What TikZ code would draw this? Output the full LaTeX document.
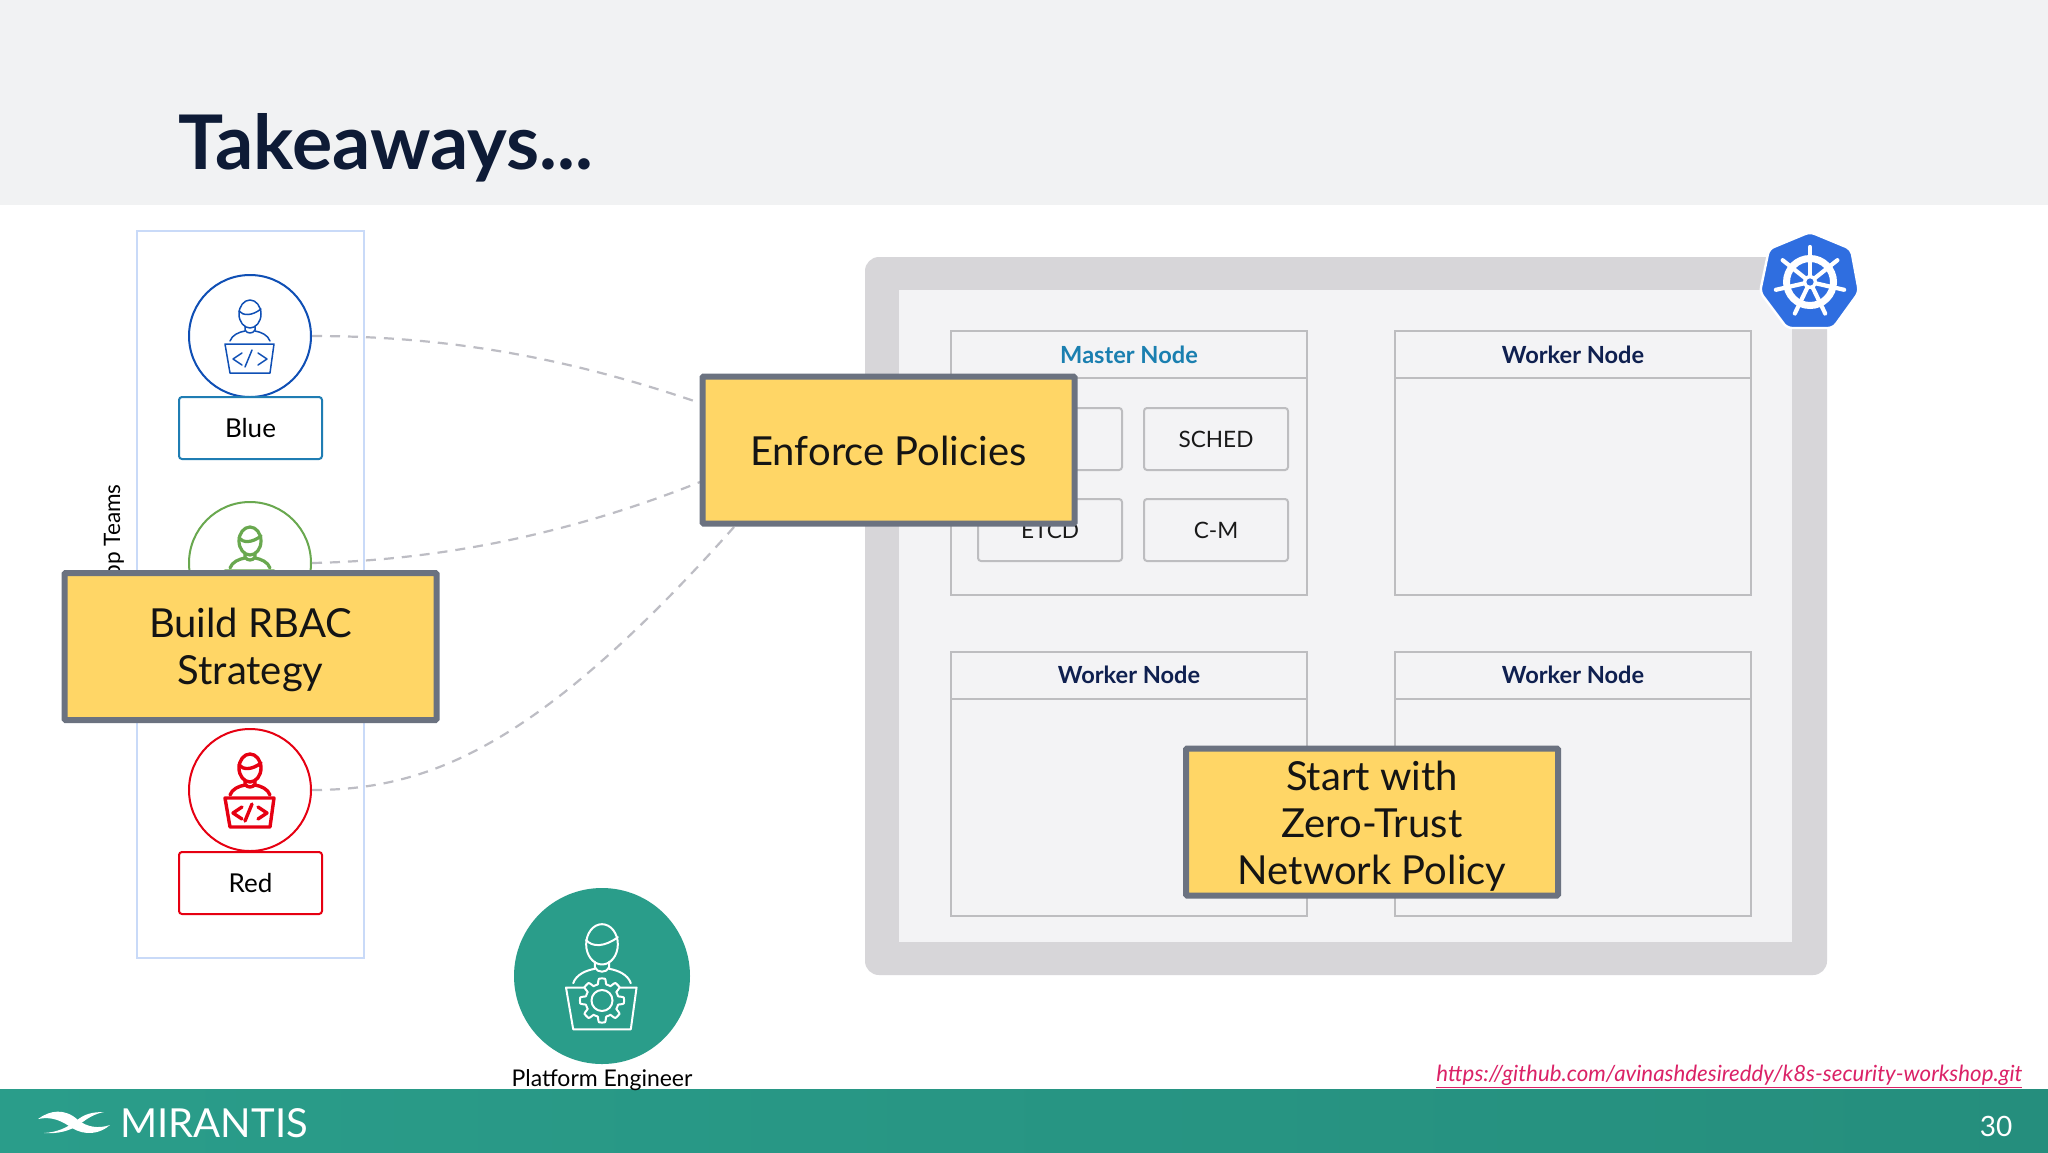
\documentclass[tikz,border=0pt]{standalone}
\usepackage{fontspec}
\setmainfont{Lato}
\usetikzlibrary{calc}
\definecolor{headbg}{HTML}{F1F2F3}
\definecolor{titleink}{HTML}{0E1B36}
\definecolor{teamline}{HTML}{C9DAF8}
\definecolor{bluecirc}{HTML}{0F4FB5}
\definecolor{bluebox}{HTML}{1F7DB3}
\definecolor{greencirc}{HTML}{69A84F}
\definecolor{redcirc}{HTML}{E60012}
\definecolor{tealfill}{HTML}{2A9D8A}
\definecolor{tealdark}{HTML}{258E7D}
\definecolor{frameg}{HTML}{D7D6D9}
\definecolor{frameinner}{HTML}{F3F3F5}
\definecolor{nodeline}{HTML}{BDBDC0}
\definecolor{masterink}{HTML}{1A7FB0}
\definecolor{workerink}{HTML}{0F2050}
\definecolor{callfill}{HTML}{FFD666}
\definecolor{callline}{HTML}{6B7280}
\definecolor{dashg}{HTML}{BDBDC4}
\definecolor{kblue}{HTML}{2F6EE0}
\definecolor{linkpink}{HTML}{DB2267}
\tikzset{
  x=0.5pt,y=-0.5pt,
  teambox/.style={draw=teamline,line width=1pt,minimum width=113.5pt,minimum height=363.5pt,inner sep=0pt},
  rolecirc/.style={circle,draw=#1,fill=white,line width=1pt,minimum size=61pt,inner sep=0pt},
  rolebox/.style={draw=#1,fill=white,line width=1pt,rounded corners=1.5pt,minimum width=71.5pt,minimum height=31pt,font=\fontsize{13}{15}\selectfont,text=black},
  partbox/.style={draw=nodeline,line width=1pt,rounded corners=1.5pt,minimum width=72pt,minimum height=31pt,font=\fontsize{11.3}{14}\selectfont,text=black!90},
  nodeframe/.style={draw=nodeline,line width=1pt,minimum width=178pt,minimum height=132pt},
  nodehead/.style={font=\bfseries\fontsize{11.8}{14}\selectfont,inner sep=0pt},
  callout/.style={draw=callline,fill=callfill,line width=3pt,rounded corners=0.6pt,inner ysep=0pt,minimum width=186pt,minimum height=73.5pt,align=center,font=\fontsize{20}{23.5}\selectfont,text=black!92},
  link/.style={draw=dashg,line width=1.1pt,dash pattern=on 5pt off 4pt},
}
% #1 x, #2 y, #3 scale, #4 colour, #5 line width, #6 laptop content
\newcommand{\personicon}[6]{%
  \begin{scope}[shift={(#1,#2)},scale=#3,draw=#4,line width=#5,line join=round,line cap=round]
    \draw (0,-22) ellipse [x radius=11,y radius=14];
    \draw (-11,-25) .. controls (-7,-20) and (2,-20) .. (11,-27);
    \draw (-5,-10) -- (-5,-6) .. controls (-3,-2) and (3,-2) .. (5,-6) -- (5,-10);
    \draw (-20,5) .. controls (-18,-1) and (-11,-4) .. (-5,-5);
    \draw (20,5) .. controls (18,-1) and (11,-4) .. (5,-5);
    \draw (-25,8) -- (24,8) -- (20,37) -- (-20,37) -- cycle;
    #6
  \end{scope}}
\newcommand{\codemark}{%
  \draw (-8,17) -- (-17,23) -- (-8,29);
  \draw (2,14) -- (-5,31);
  \draw (8,17) -- (17,23) -- (8,29);}
\begin{document}
\begin{tikzpicture}
\useasboundingbox (0,0) rectangle (2048,1152);
\fill[white] (0,0) rectangle (2048,1152);
% header and footer
\fill[headbg] (0,0) rectangle (2048,205);
\shade[left color=tealfill,right color=tealdark] (0,1089) rectangle (2048,1152);
\node[anchor=base west,inner sep=0pt,text=titleink,font=\bfseries\fontsize{37.7}{40}\selectfont] (title) at (178,169.5) {Takeaways...};
% team panel
\node[teambox] (team) at (250.5,594.5) {};
\node[anchor=base east,rotate=90,inner sep=0pt,font=\fontsize{11.3}{15}\selectfont,text=black] (teamlabel) at (120,484) {App Teams};
\node[rolecirc=bluecirc] (bluec) at (250,336) {};
\personicon{250}{336}{1}{bluecirc}{0.75pt}{\codemark}
\node[rolebox=bluebox] (blueb) at (250.5,428) {\raisebox{-0.5pt}{Blue}};
\node[rolecirc=greencirc] (greenc) at (250,563) {};
\personicon{250}{563}{1}{greencirc}{1.6pt}{\codemark}
\node[rolecirc=redcirc] (redc) at (250,790) {};
\personicon{250}{790}{1}{redcirc}{1.7pt}{\codemark}
\node[rolebox=redcirc] (redb) at (250.5,883) {Red};
% platform engineer
\node[circle,fill=tealfill,minimum size=88pt,inner sep=0pt] (plat) at (602,976) {};
\begin{scope}[shift={(602,976)},scale=1.44,draw=white,line width=1pt,line join=round,line cap=round]
  \draw (0,-22) ellipse [x radius=11,y radius=14];
  \draw (-11,-25) .. controls (-7,-20) and (2,-20) .. (11,-27);
  \draw (-5,-10) -- (-5,-6) .. controls (-3,-2) and (3,-2) .. (5,-6) -- (5,-10);
  \draw (-20,5) .. controls (-18,-1) and (-11,-4) .. (-5,-5);
  \draw (20,5) .. controls (18,-1) and (11,-4) .. (5,-5);
  \draw (-25,8) -- (24,8) -- (20,37) -- (-20,37) -- cycle;
  \begin{scope}[shift={(0,17)}]
    \draw[fill=tealfill] plot[samples=193,domain=0:360] (\x:{13.4+1.9*max(min(2.5*cos(8*\x),1),-1)}) -- cycle;
    \draw (0,0) circle [radius=7.3];
  \end{scope}
\end{scope}
\node[anchor=base,inner sep=0pt,font=\fontsize{11.5}{14}\selectfont,text=black] (platlabel) at (602,1086) {Platform Engineer};
% cluster frame
\fill[frameg,rounded corners=7pt] (865,257) rectangle (1827,975);
\fill[frameinner] (899,290) rectangle (1792,942);
% master node
\node[nodeframe] (master) at (1129,463) {};
\draw[nodeline,line width=1pt] (951,378) -- (1307,378);
\node[nodehead,text=masterink] (masterh) at (1129,355) {Master Node};
\node[partbox] (api) at (1050,439) {};
\node[partbox] (sched) at (1216,439) {SCHED};
\node[partbox] (etcd) at (1050,530) {ETCD};
\node[partbox] (cm) at (1216,530) {C-M};
% worker nodes
\node[nodeframe] (w1) at (1573,463) {};
\draw[nodeline,line width=1pt] (1395,378) -- (1751,378);
\node[nodehead,text=workerink] (w1h) at (1573,355) {Worker Node};
\node[nodeframe] (w2) at (1129,784) {};
\draw[nodeline,line width=1pt] (951,699) -- (1307,699);
\node[nodehead,text=workerink] (w2h) at (1129,675) {Worker Node};
\node[nodeframe] (w3) at (1573,784) {};
\draw[nodeline,line width=1pt] (1395,699) -- (1751,699);
\node[nodehead,text=workerink] (w3h) at (1573,675) {Worker Node};
% kubernetes badge
\draw[white,line width=1.2pt,fill=kblue,rounded corners=2.5pt]
  (1810,232) -- (1851,249) -- (1859,292) -- (1833,328) -- (1787,328) -- (1760,292) -- (1769,249) -- cycle;
\begin{scope}[shift={(1810,282)}]
  \draw[white,line width=3.5pt] (0,0) circle [radius=23.5];
  \foreach \a in {90,38.57,-12.86,-64.29,-115.71,-167.14,141.43}
    \draw[white,line width=2.1pt,line cap=round] (0,0) -- (\a:-35);
  \fill[white] (0,0) circle [radius=7];
  \fill[kblue] (0,0) circle [radius=3.6];
\end{scope}
% connectors
\coordinate (e1) at (700,403);
\coordinate (e2) at (700,482);
\coordinate (e3) at (734,527);
\draw[link] (bluec.east) .. controls (440,336) and (560,355) .. (e1);
\draw[link] (greenc.east) .. controls (450,560) and (580,530) .. (e2);
\draw[link] (redc.east) .. controls (430,790) and (540,745) .. (e3);
% callouts
\node[callout] (enf) at (888.5,450) {\rule{0pt}{15.5pt}Enforce Policies};
\node[callout] (rbac) at (250.5,646.5) {\rule{0pt}{18.5pt}Build RBAC\\Strategy};
\node[callout] (zero) at (1372,822) {\rule{0pt}{18.5pt}Start with\\Zero-Trust\\Network Policy};
% footer texts
\node[anchor=base west,inner sep=0pt,text=linkpink,font=\itshape\fontsize{11.15}{14}\selectfont] (url) at (1436,1081) {\underline{https://github.com/avinashdesireddy/k8s-security-workshop.git}};
\node[anchor=base,inner sep=0pt,text=white,font=\fontsize{14}{16}\selectfont] (page) at (1996,1136) {30};
\node[anchor=base west,inner sep=0pt,text=white,font=\fontsize{20}{24}\selectfont] (brand) at (120,1137) {MIRANTIS};
\fill[white] (38,1119) .. controls (50,1110) and (65,1108) .. (78,1120) .. controls (87,1127) and (98,1129) .. (110,1125) .. controls (100,1134) and (85,1136) .. (72,1128) .. controls (62,1121) and (52,1116) .. (38,1119) -- cycle;
\fill[white] (44,1133) .. controls (58,1132) and (66,1128) .. (76,1121) .. controls (84,1114) and (92,1112) .. (104,1112) .. controls (94,1114) and (88,1118) .. (80,1124) .. controls (70,1131) and (58,1134) .. (44,1133) -- cycle;
\end{tikzpicture}
\end{document}
